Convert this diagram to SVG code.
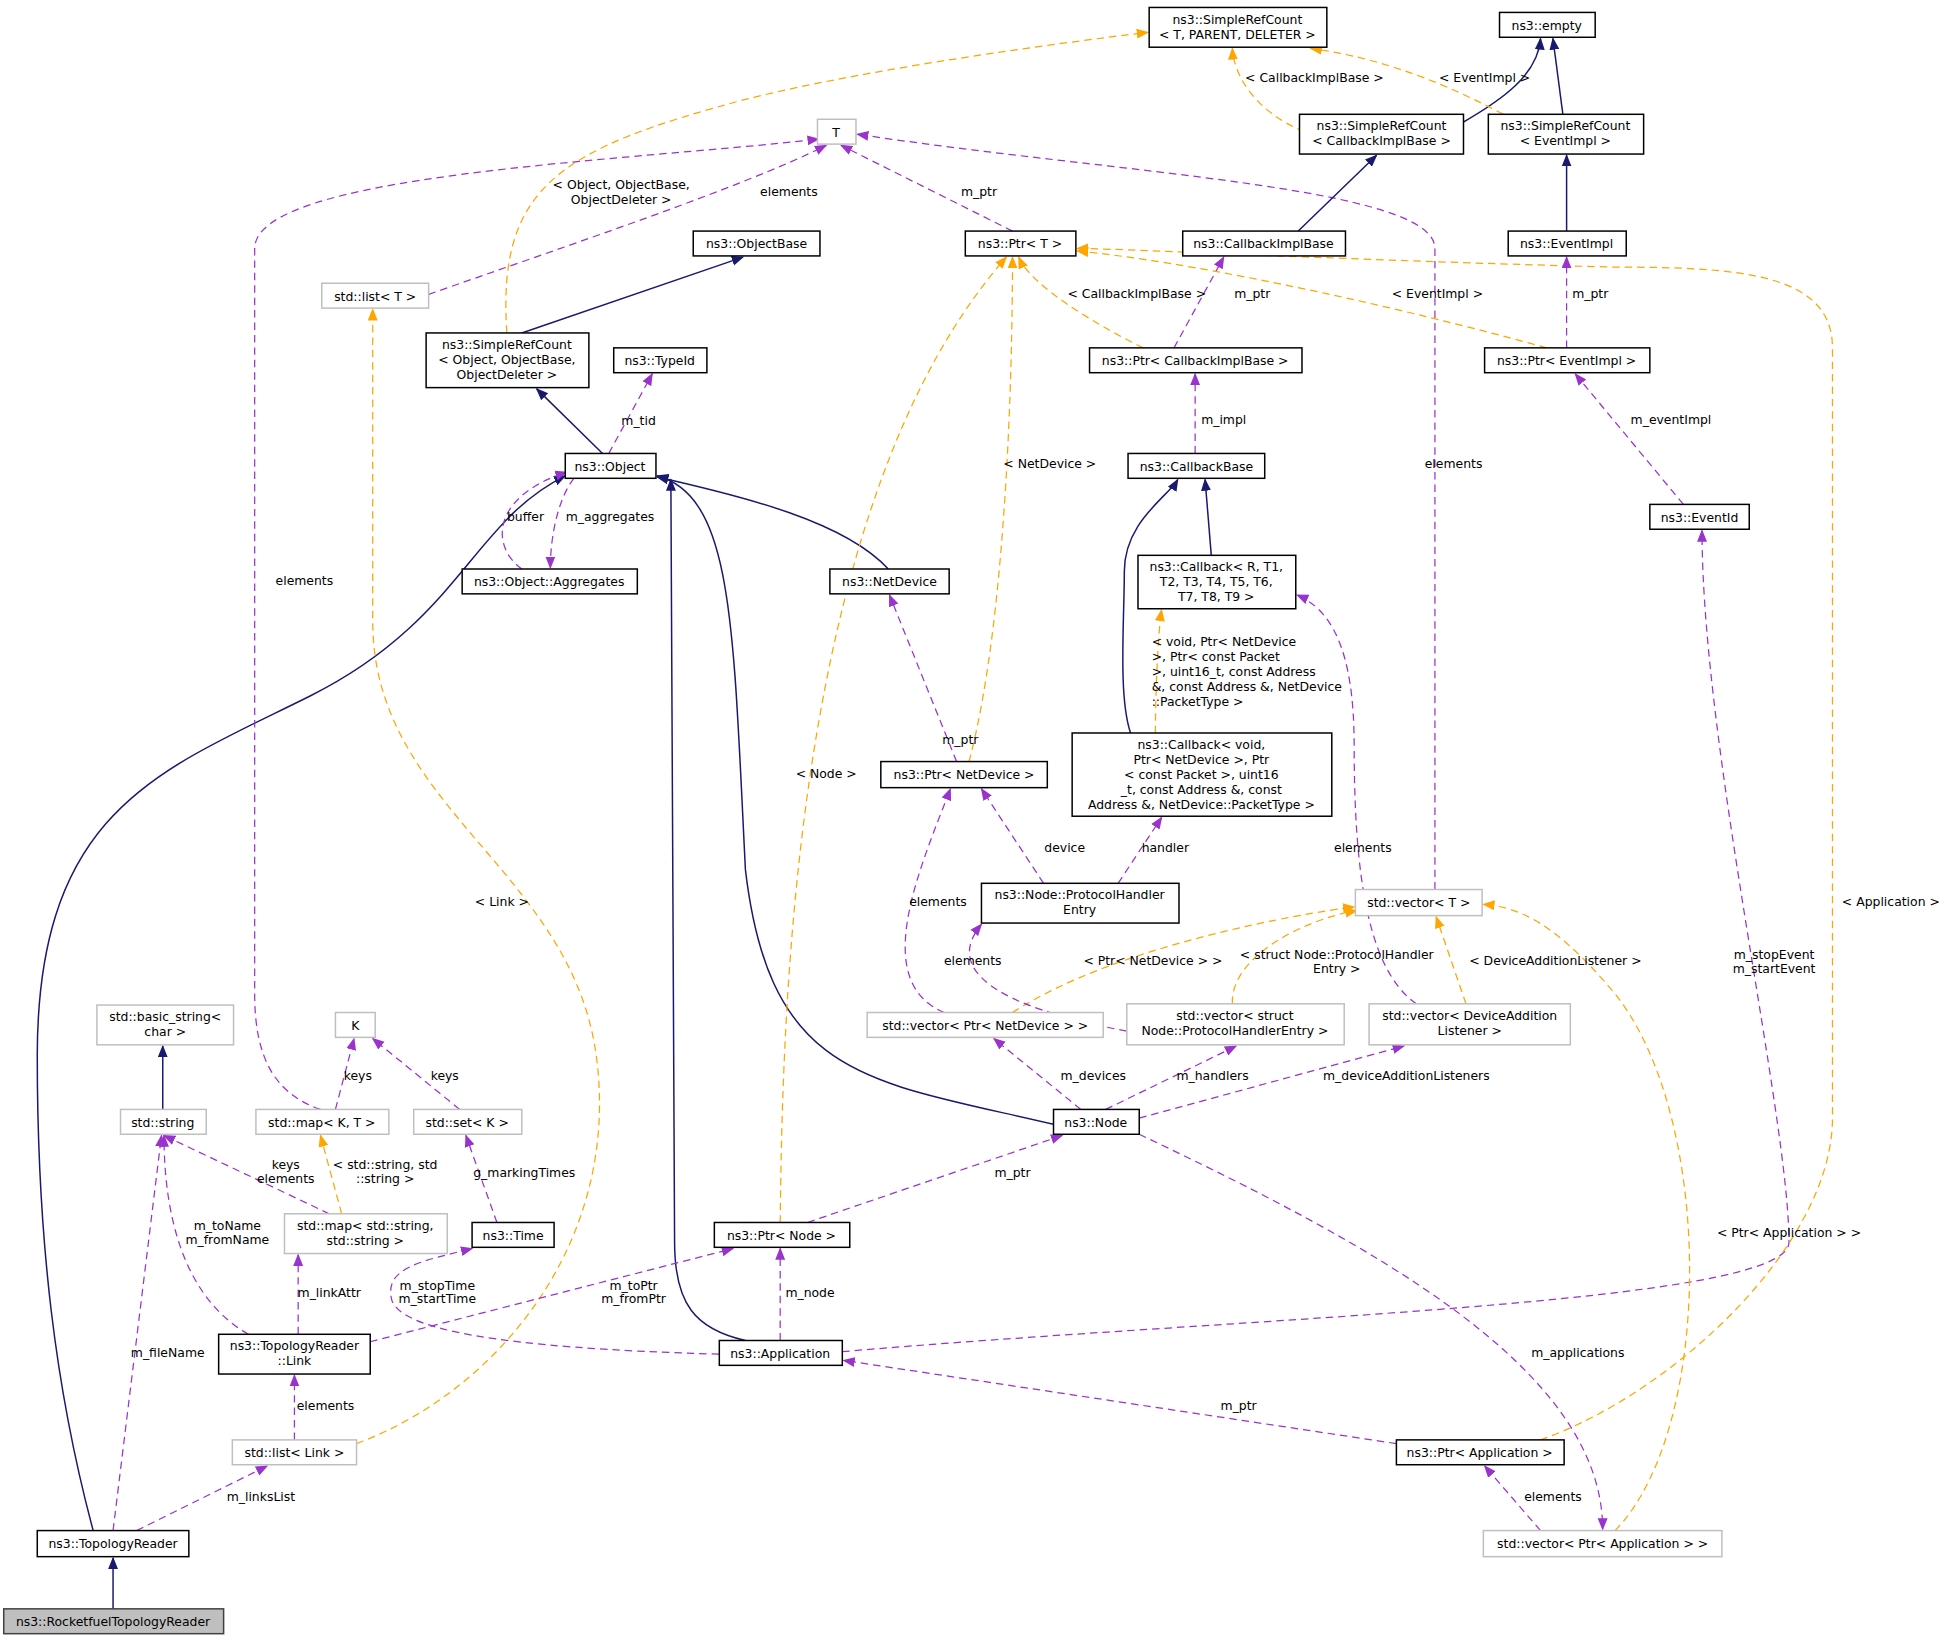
<svg xmlns="http://www.w3.org/2000/svg" width="1948" height="1640" viewBox="0 0 1948 1640">
<style>
text{font-family:"DejaVu Sans","Liberation Sans",sans-serif;font-size:10px;fill:#000}
.n rect{fill:#fff;stroke:#000;stroke-width:1.2}
.g rect{fill:#fff;stroke:#bfbfbf;stroke-width:1.2}
.n text,.g text{text-anchor:middle}
.e path{fill:none}
.nv{stroke:#191970;stroke-width:1.2}
.pu{stroke:#9a32cd;stroke-width:1;stroke-dasharray:6,4}
.or{stroke:#ffa500;stroke-width:1;stroke-dasharray:6,4}
.lb text{text-anchor:middle}
.lb text.l{text-anchor:start}
</style>
<defs>
<marker id="an" markerWidth="10" markerHeight="10" refX="9" refY="5" orient="auto" markerUnits="userSpaceOnUse"><path d="M0,1 L10,5 L0,9 z" fill="#191970"/></marker>
<marker id="ap" markerWidth="10" markerHeight="10" refX="9" refY="5" orient="auto" markerUnits="userSpaceOnUse"><path d="M0,1 L10,5 L0,9 z" fill="#9a32cd"/></marker>
<marker id="ao" markerWidth="10" markerHeight="10" refX="9" refY="5" orient="auto" markerUnits="userSpaceOnUse"><path d="M0,1 L10,5 L0,9 z" fill="#ffa500"/></marker>
</defs>
<rect width="1948" height="1640" fill="#fff"/>
<g transform="scale(1.24235)">
<g id="edges" class="e">
<path class="nv" marker-end="url(#an)" d="M91,1295 L91,1254"/>
<path class="nv" marker-end="url(#an)" d="M131,893 L131,842"/>
<path class="nv" marker-end="url(#an)" d="M75,1232 C45,1120 30,1000 30,850 C30,650 130,620 250,560 C370,500 380,420 455,383"/>
<path class="nv" marker-end="url(#an)" d="M600,1079 C560,1070 543,1050 543,1000 L540,386"/>
<path class="nv" marker-end="url(#an)" d="M848,905 C700,870 620,870 600,700 C590,500 590,400 529,383"/>
<path class="nv" marker-end="url(#an)" d="M715,458 C680,420 600,400 529,384"/>
<path class="nv" marker-end="url(#an)" d="M485,365 L432,313"/>
<path class="nv" marker-end="url(#an)" d="M420,268 L598,207"/>
<path class="pu" marker-end="url(#ap)" d="M490,365 L525,301"/>
<path class="pu" marker-end="url(#ap)" d="M462,385 C450,400 443,430 443,457"/>
<path class="pu" marker-end="url(#ap)" d="M420,458 C395,440 395,400 456,380"/>
<path class="or" marker-end="url(#ao)" d="M408,268 C400,150 450,120 600,80 C700,55 850,35 924,26"/>
<path class="pu" marker-end="url(#ap)" d="M345,237 C450,200 600,150 665,117"/>
<path class="pu" marker-end="url(#ap)" d="M258,893 C220,880 205,850 205,800 L205,200 C205,140 500,130 659,112"/>
<path class="or" marker-end="url(#ao)" d="M287,1162 C400,1120 500,1000 480,850 C460,700 300,650 300,500 L300,249"/>
<path class="pu" marker-end="url(#ap)" d="M237,1159 L237,1107"/>
<path class="pu" marker-end="url(#ap)" d="M110,1232 L215,1180"/>
<path class="pu" marker-end="url(#ap)" d="M91,1232 L130,914"/>
<path class="pu" marker-end="url(#ap)" d="M200,1074 C140,1040 132,960 132,914"/>
<path class="pu" marker-end="url(#ap)" d="M240,1074 L240,1010"/>
<path class="pu" marker-end="url(#ap)" d="M298,1080 L590,1005"/>
<path class="pu" marker-end="url(#ap)" d="M265,977 L132,914"/>
<path class="or" marker-end="url(#ao)" d="M275,977 L258,914"/>
<path class="pu" marker-end="url(#ap)" d="M270,893 L285,836"/>
<path class="pu" marker-end="url(#ap)" d="M370,893 L300,836"/>
<path class="pu" marker-end="url(#ap)" d="M400,984 L375,914"/>
<path class="pu" marker-end="url(#ap)" d="M579,1090 C400,1085 320,1070 315,1045 C310,1020 340,1015 380,1005"/>
<path class="pu" marker-end="url(#ap)" d="M628,1079 L628,1005"/>
<path class="pu" marker-end="url(#ap)" d="M650,984 L855,914"/>
<path class="or" marker-end="url(#ao)" d="M628,984 C630,800 640,400 810,207"/>
<path class="pu" marker-end="url(#ap)" d="M678,1088 C1000,1060 1440,1050 1440,1000 C1440,900 1370,600 1370,427"/>
<path class="pu" marker-end="url(#ap)" d="M1124,1162 L679,1095"/>
<path class="pu" marker-end="url(#ap)" d="M1240,1232 L1195,1180"/>
<path class="pu" marker-end="url(#ap)" d="M917,913 C1100,1000 1290,1100 1290,1231"/>
<path class="or" marker-end="url(#ao)" d="M1300,1232 C1380,1150 1380,900 1300,800 C1250,740 1220,730 1194,728"/>
<path class="or" marker-end="url(#ao)" d="M1240,1159 C1350,1120 1475,1000 1475,900 L1475,280 C1475,220 1400,215 1300,215 C1100,210 900,200 867,200"/>
<path class="pu" marker-end="url(#ap)" d="M870,893 L800,836"/>
<path class="pu" marker-end="url(#ap)" d="M890,893 L995,842"/>
<path class="pu" marker-end="url(#ap)" d="M917,900 L1130,842"/>
<path class="or" marker-end="url(#ao)" d="M815,815 C900,760 1050,735 1090,730"/>
<path class="or" marker-end="url(#ao)" d="M992,808 C990,770 1050,740 1092,733"/>
<path class="or" marker-end="url(#ao)" d="M1180,808 L1156,738"/>
<path class="pu" marker-end="url(#ap)" d="M760,815 C700,790 740,700 765,635"/>
<path class="pu" marker-end="url(#ap)" d="M907,830 C800,810 760,780 790,744"/>
<path class="pu" marker-end="url(#ap)" d="M1140,808 C1100,780 1090,700 1090,600 C1090,520 1070,490 1044,479"/>
<path class="pu" marker-end="url(#ap)" d="M1155,716 L1155,200 C1155,150 900,140 690,108"/>
<path class="pu" marker-end="url(#ap)" d="M840,711 L790,635"/>
<path class="pu" marker-end="url(#ap)" d="M900,711 L935,658"/>
<path class="pu" marker-end="url(#ap)" d="M770,613 L716,479"/>
<path class="or" marker-end="url(#ao)" d="M780,613 C810,500 815,300 815,207"/>
<path class="or" marker-end="url(#ao)" d="M930,590 C930,560 932,510 935,491"/>
<path class="nv" marker-end="url(#an)" d="M910,590 C900,560 905,500 905,460 C905,420 940,400 948,386"/>
<path class="nv" marker-end="url(#an)" d="M975,447 L970,386"/>
<path class="pu" marker-end="url(#ap)" d="M962,365 L962,301"/>
<path class="pu" marker-end="url(#ap)" d="M945,280 L985,207"/>
<path class="or" marker-end="url(#ao)" d="M920,280 C880,260 830,230 820,207"/>
<path class="or" marker-end="url(#ao)" d="M1245,280 C1100,240 950,210 867,202"/>
<path class="pu" marker-end="url(#ap)" d="M1261,280 L1261,207"/>
<path class="pu" marker-end="url(#ap)" d="M1355,406 L1268,301"/>
<path class="pu" marker-end="url(#ap)" d="M815,186 L677,117"/>
<path class="nv" marker-end="url(#an)" d="M1045,186 L1108,125"/>
<path class="nv" marker-end="url(#an)" d="M1261,186 L1261,125"/>
<path class="nv" marker-end="url(#an)" d="M1175,100 C1210,80 1238,60 1240,31"/>
<path class="nv" marker-end="url(#an)" d="M1258,92 L1250,31"/>
<path class="or" marker-end="url(#ao)" d="M1050,106 C1010,90 993,60 992,39"/>
<path class="or" marker-end="url(#ao)" d="M1210,92 C1150,60 1100,45 1055,39"/>
</g>
<g id="labels" class="lb">
<text x="514" y="342">m_tid</text>
<text x="491" y="419">m_aggregates</text>
<text x="423" y="419">buffer</text>
<text x="500" y="152">&lt; Object, ObjectBase,</text><text x="500" y="164">ObjectDeleter &gt;</text>
<text x="635" y="158">elements</text>
<text x="245" y="471">elements</text>
<text x="404" y="729">&lt; Link &gt;</text>
<text x="262" y="1135">elements</text>
<text x="210" y="1208">m_linksList</text>
<text x="135" y="1092">m_fileName</text>
<text x="183" y="990">m_toName</text><text x="183" y="1001">m_fromName</text>
<text x="265" y="1044">m_linkAttr</text>
<text x="510" y="1038">m_toPtr</text><text x="510" y="1049">m_fromPtr</text>
<text x="230" y="941">keys</text><text x="230" y="952">elements</text>
<text x="310" y="941">&lt; std::string, std</text><text x="310" y="952">::string &gt;</text>
<text x="288" y="869">keys</text>
<text x="358" y="869">keys</text>
<text x="422" y="947">g_markingTimes</text>
<text x="352" y="1038">m_stopTime</text><text x="352" y="1049">m_startTime</text>
<text x="652" y="1044">m_node</text>
<text x="815" y="947">m_ptr</text>
<text x="665" y="626">&lt; Node &gt;</text>
<text x="1428" y="772">m_stopEvent</text><text x="1428" y="783">m_startEvent</text>
<text x="997" y="1135">m_ptr</text>
<text x="1250" y="1208">elements</text>
<text x="1270" y="1092">m_applications</text>
<text x="1440" y="996">&lt; Ptr&lt; Application &gt; &gt;</text>
<text x="1522" y="729">&lt; Application &gt;</text>
<text x="880" y="869">m_devices</text>
<text x="976" y="869">m_handlers</text>
<text x="1132" y="869">m_deviceAdditionListeners</text>
<text x="928" y="777">&lt; Ptr&lt; NetDevice &gt; &gt;</text>
<text x="1076" y="772">&lt; struct Node::ProtocolHandler</text><text x="1076" y="783">Entry &gt;</text>
<text x="1252" y="777">&lt; DeviceAdditionListener &gt;</text>
<text x="755" y="729">elements</text>
<text x="783" y="777">elements</text>
<text x="1097" y="686">elements</text>
<text x="1170" y="377">elements</text>
<text x="857" y="686">device</text>
<text x="938" y="686">handler</text>
<text x="773" y="599">m_ptr</text>
<text x="845" y="377">&lt; NetDevice &gt;</text>
<text class="l" x="927" y="520">&lt; void, Ptr&lt; NetDevice</text><text class="l" x="927" y="532">&gt;, Ptr&lt; const Packet</text><text class="l" x="927" y="544">&gt;, uint16_t, const Address</text><text class="l" x="927" y="556">&amp;, const Address &amp;, NetDevice</text><text class="l" x="927" y="568">::PacketType &gt;</text>
<text x="985" y="341">m_impl</text>
<text x="1008" y="240">m_ptr</text>
<text x="915" y="240">&lt; CallbackImplBase &gt;</text>
<text x="1157" y="240">&lt; EventImpl &gt;</text>
<text x="1280" y="240">m_ptr</text>
<text x="1345" y="341">m_eventImpl</text>
<text x="788" y="158">m_ptr</text>
<text x="1058" y="66">&lt; CallbackImplBase &gt;</text>
<text x="1195" y="66">&lt; EventImpl &gt;</text>
</g>
<g id="RocketfuelTopologyReader" class="n"><rect x="3" y="1295" width="177" height="20" style="fill:#bfbfbf;stroke:#404040"/><text x="91" y="1309">ns3::RocketfuelTopologyReader</text></g>
<g id="TopologyReader" class="n"><rect x="30" y="1232" width="122" height="21"/><text x="91" y="1246">ns3::TopologyReader</text></g>
<g id="listLink" class="g"><rect x="187" y="1159" width="100" height="20"/><text x="237" y="1173">std::list&lt; Link &gt;</text></g>
<g id="Link" class="n"><rect x="176" y="1074" width="122" height="32"/><text x="237" y="1087">ns3::TopologyReader</text><text x="237" y="1099">::Link</text></g>
<g id="string" class="g"><rect x="97" y="893" width="69" height="20"/><text x="131" y="907">std::string</text></g>
<g id="basic_string" class="g"><rect x="78" y="809" width="110" height="32"/><text x="133" y="822">std::basic_string&lt;</text><text x="133" y="834">char &gt;</text></g>
<g id="mapKT" class="g"><rect x="206" y="893" width="107" height="20"/><text x="259" y="907">std::map&lt; K, T &gt;</text></g>
<g id="K" class="g"><rect x="270" y="815" width="32" height="20"/><text x="286" y="829">K</text></g>
<g id="setK" class="g"><rect x="333" y="893" width="87" height="20"/><text x="376" y="907">std::set&lt; K &gt;</text></g>
<g id="mapSS" class="g"><rect x="229" y="977" width="131" height="32"/><text x="294" y="990">std::map&lt; std::string,</text><text x="294" y="1002">std::string &gt;</text></g>
<g id="Time" class="n"><rect x="380" y="984" width="66" height="20"/><text x="413" y="998">ns3::Time</text></g>
<g id="PtrNode" class="n"><rect x="575" y="984" width="109" height="20"/><text x="629" y="998">ns3::Ptr&lt; Node &gt;</text></g>
<g id="Application" class="n"><rect x="579" y="1079" width="99" height="20"/><text x="628" y="1093">ns3::Application</text></g>
<g id="Node" class="n"><rect x="848" y="893" width="69" height="20"/><text x="882" y="907">ns3::Node</text></g>
<g id="vecPtrNetDevice" class="g"><rect x="698" y="815" width="190" height="20"/><text x="793" y="829">std::vector&lt; Ptr&lt; NetDevice &gt; &gt;</text></g>
<g id="vecPHE" class="g"><rect x="907" y="808" width="175" height="33"/><text x="994" y="821">std::vector&lt; struct</text><text x="994" y="833">Node::ProtocolHandlerEntry &gt;</text></g>
<g id="vecDAL" class="g"><rect x="1102" y="808" width="162" height="33"/><text x="1183" y="821">std::vector&lt; DeviceAddition</text><text x="1183" y="833">Listener &gt;</text></g>
<g id="vecT" class="g"><rect x="1091" y="716" width="102" height="21"/><text x="1142" y="730">std::vector&lt; T &gt;</text></g>
<g id="PHE" class="n"><rect x="790" y="711" width="159" height="32"/><text x="869" y="724">ns3::Node::ProtocolHandler</text><text x="869" y="736">Entry</text></g>
<g id="PtrNetDevice" class="n"><rect x="709" y="613" width="134" height="21"/><text x="776" y="627">ns3::Ptr&lt; NetDevice &gt;</text></g>
<g id="CallbackVoid" class="n"><rect x="863" y="590" width="209" height="67"/><text x="967" y="603">ns3::Callback&lt; void,</text><text x="967" y="615"> Ptr&lt; NetDevice &gt;, Ptr</text><text x="967" y="627">&lt; const Packet &gt;, uint16</text><text x="967" y="639">_t, const Address &amp;, const</text><text x="967" y="651"> Address &amp;, NetDevice::PacketType &gt;</text></g>
<g id="CallbackR" class="n"><rect x="916" y="447" width="127" height="43"/><text x="979" y="460">ns3::Callback&lt; R, T1,</text><text x="979" y="472"> T2, T3, T4, T5, T6,</text><text x="979" y="484"> T7, T8, T9 &gt;</text></g>
<g id="NetDevice" class="n"><rect x="668" y="458" width="96" height="20"/><text x="716" y="472">ns3::NetDevice</text></g>
<g id="Aggregates" class="n"><rect x="372" y="458" width="141" height="20"/><text x="442" y="472">ns3::Object::Aggregates</text></g>
<g id="Object" class="n"><rect x="455" y="365" width="73" height="20"/><text x="491" y="379">ns3::Object</text></g>
<g id="TypeId" class="n"><rect x="494" y="280" width="75" height="20"/><text x="531" y="294">ns3::TypeId</text></g>
<g id="SRCObject" class="n"><rect x="343" y="268" width="131" height="44"/><text x="408" y="281">ns3::SimpleRefCount</text><text x="408" y="293">&lt; Object, ObjectBase,</text><text x="408" y="305"> ObjectDeleter &gt;</text></g>
<g id="ObjectBase" class="n"><rect x="558" y="186" width="102" height="20"/><text x="609" y="200">ns3::ObjectBase</text></g>
<g id="listT" class="g"><rect x="259" y="228" width="86" height="20"/><text x="302" y="242">std::list&lt; T &gt;</text></g>
<g id="T" class="g"><rect x="658" y="96" width="31" height="20"/><text x="673" y="110">T</text></g>
<g id="PtrT" class="n"><rect x="777" y="186" width="89" height="20"/><text x="821" y="200">ns3::Ptr&lt; T &gt;</text></g>
<g id="CallbackImplBase" class="n"><rect x="952" y="186" width="131" height="20"/><text x="1017" y="200">ns3::CallbackImplBase</text></g>
<g id="PtrCIB" class="n"><rect x="877" y="280" width="171" height="20"/><text x="962" y="294">ns3::Ptr&lt; CallbackImplBase &gt;</text></g>
<g id="CallbackBase" class="n"><rect x="908" y="365" width="110" height="20"/><text x="963" y="379">ns3::CallbackBase</text></g>
<g id="SRCT" class="n"><rect x="925" y="6" width="143" height="32"/><text x="996" y="19">ns3::SimpleRefCount</text><text x="996" y="31">&lt; T, PARENT, DELETER &gt;</text></g>
<g id="empty" class="n"><rect x="1207" y="10" width="77" height="20"/><text x="1245" y="24">ns3::empty</text></g>
<g id="SRCCIB" class="n"><rect x="1046" y="92" width="132" height="32"/><text x="1112" y="105">ns3::SimpleRefCount</text><text x="1112" y="117">&lt; CallbackImplBase &gt;</text></g>
<g id="SRCEventImpl" class="n"><rect x="1198" y="92" width="125" height="32"/><text x="1260" y="105">ns3::SimpleRefCount</text><text x="1260" y="117">&lt; EventImpl &gt;</text></g>
<g id="EventImpl" class="n"><rect x="1214" y="186" width="95" height="20"/><text x="1261" y="200">ns3::EventImpl</text></g>
<g id="PtrEventImpl" class="n"><rect x="1195" y="280" width="133" height="20"/><text x="1261" y="294">ns3::Ptr&lt; EventImpl &gt;</text></g>
<g id="EventId" class="n"><rect x="1328" y="406" width="80" height="20"/><text x="1368" y="420">ns3::EventId</text></g>
<g id="PtrApplication" class="n"><rect x="1124" y="1159" width="135" height="20"/><text x="1191" y="1173">ns3::Ptr&lt; Application &gt;</text></g>
<g id="vecPtrApp" class="g"><rect x="1194" y="1232" width="192" height="21"/><text x="1290" y="1246">std::vector&lt; Ptr&lt; Application &gt; &gt;</text></g>
</g>
</svg>
